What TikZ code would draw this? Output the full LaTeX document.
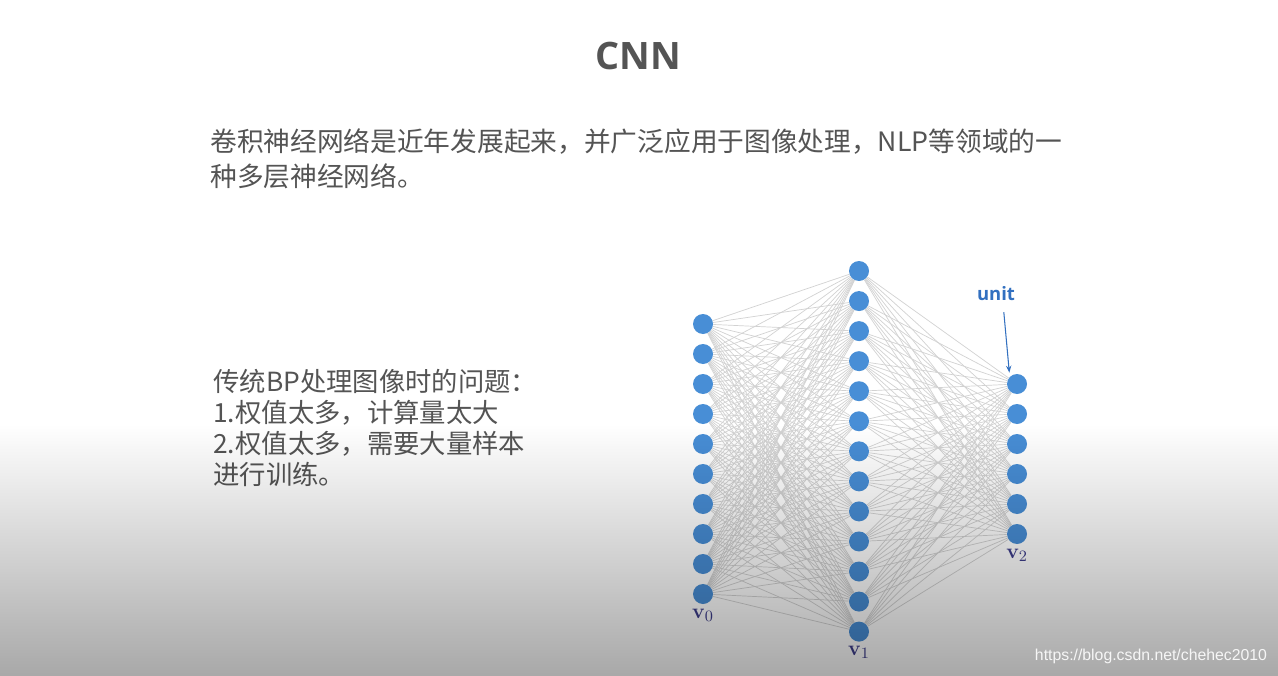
\documentclass[tikz,border=0pt]{standalone}
\usepackage[no-math]{fontspec}
\newfontfamily\cjk{Noto Sans CJK SC}
\newfontfamily\titlefont{Open Sans}
\newfontfamily\webfont{Liberation Sans}
\usetikzlibrary{positioning, arrows.meta, fadings, backgrounds}
\definecolor{neuronblue}{RGB}{72,142,214}
\definecolor{textgray}{RGB}{84,84,84}
\definecolor{labelblue}{RGB}{62,62,140}
\definecolor{unitblue}{RGB}{50,112,192}
\tikzfading[name=fadeup, top color=transparent!100, bottom color=transparent!0]

\begin{document}
\begin{tikzpicture}[
        x=0.02cm, y=-0.02cm,
        neuron/.style={circle, fill=neuronblue, minimum size=0.4cm, inner sep=0pt},
        link/.style={draw=gray!35, line width=0.4pt},
        para/.style={anchor=west, align=left, inner sep=0pt, text=textgray},
        layerlbl/.style={text=labelblue, inner sep=0pt, font=\fontsize{13}{13}\selectfont},
        arrow/.style={-{Stealth[length=4pt, width=3pt]}, draw=unitblue, line width=0.6pt},
    ]
    \useasboundingbox (0,0) rectangle (1278,676);
    \begin{scope}[on background layer]
        \fill[white] (0,0) rectangle (1278,676);
    \end{scope}

    % Title and text
    \node[text=textgray, font=\titlefont\bfseries\fontsize{21.5}{25}\selectfont] (title) at (638,56) {CNN};
    \node[para, font=\cjk\fontsize{15.2}{20}\selectfont] (intro) at (210,159) {卷积神经网络是近年发展起来，并广泛应用于图像处理，NLP等领域的一\\种多层神经网络。};
    \node[para, font=\cjk\fontsize{15}{17.8}\selectfont] (problem) at (213,428) {传统BP处理图像时的问题：\\1.权值太多，计算量太大\\2.权值太多，需要大量样本\\进行训练。};

    % Layers
    \foreach \i in {0,...,9} \node[neuron] (in\i) at (703, 324+30*\i) {};
    \foreach \i in {0,...,12} \node[neuron] (hid\i) at (859, 271+30.05*\i) {};
    \foreach \i in {0,...,5} \node[neuron] (out\i) at (1017, 384+30*\i) {};

    % Connections
    \begin{scope}[on background layer]
        \foreach \i in {0,...,9} \foreach \j in {0,...,12} \draw[link] (in\i) -- (hid\j);
        \foreach \j in {0,...,12} \foreach \k in {0,...,5} \draw[link] (hid\j) -- (out\k);
    \end{scope}

    % Layer labels
    \node[layerlbl, below=0.08cm of in9] (v0) {$\mathbf{v}_0$};
    \node[layerlbl, below=0.08cm of hid12] (v1) {$\mathbf{v}_1$};
    \node[layerlbl, below=0.08cm of out5] (v2) {$\mathbf{v}_2$};

    % unit pointer
    \node[text=unitblue, inner sep=1pt, font=\titlefont\bfseries\fontsize{10.5}{12}\selectfont] (unitlbl) at (996,294) {unit};
    \draw[arrow, shorten <=0.18cm, shorten >=0.08cm] ([xshift=0.14cm]unitlbl.south) -- (out0.north west);

    % Grey fade at the bottom
    \fill[black, opacity=0.34, path fading=fadeup] (0,425) rectangle (1278,676);

    \node[font=\webfont\fontsize{9}{10}\selectfont, text=white!93!gray] (site) at (1151,656) {https://blog.csdn.net/chehec2010};
\end{tikzpicture}
\end{document}
